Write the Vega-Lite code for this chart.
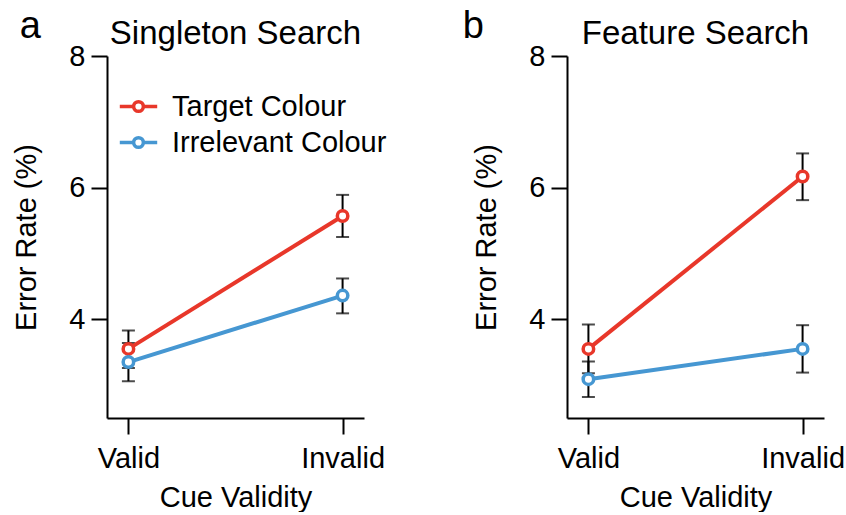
{
  "$schema": "https://vega.github.io/schema/vega-lite/v6.json",
  "background": "white",
  "padding": {"left": 12, "top": 8, "right": 0, "bottom": 0},
  "spacing": 75,
  "datasets": {
    "err": [
      {"panel": "a", "cond": "Target Colour", "validity": "Valid", "mean": 3.55, "lo": 3.26, "hi": 3.83},
      {"panel": "a", "cond": "Target Colour", "validity": "Invalid", "mean": 5.57, "lo": 5.25, "hi": 5.89},
      {"panel": "a", "cond": "Irrelevant Colour", "validity": "Valid", "mean": 3.35, "lo": 3.06, "hi": 3.64},
      {"panel": "a", "cond": "Irrelevant Colour", "validity": "Invalid", "mean": 4.36, "lo": 4.09, "hi": 4.62},
      {"panel": "b", "cond": "Target Colour", "validity": "Valid", "mean": 3.55, "lo": 3.18, "hi": 3.92},
      {"panel": "b", "cond": "Target Colour", "validity": "Invalid", "mean": 6.17, "lo": 5.81, "hi": 6.52},
      {"panel": "b", "cond": "Irrelevant Colour", "validity": "Valid", "mean": 3.09, "lo": 2.82, "hi": 3.36},
      {"panel": "b", "cond": "Irrelevant Colour", "validity": "Invalid", "mean": 3.55, "lo": 3.19, "hi": 3.91}
    ]
  },
  "config": {
    "font": "Liberation Sans",
    "view": {"stroke": null},
    "axis": {
      "grid": false,
      "domainColor": "black",
      "tickColor": "black",
      "domainWidth": 2,
      "tickWidth": 2,
      "tickSize": 16,
      "labelFontSize": 29,
      "titleFontSize": 29,
      "labelColor": "black",
      "titleColor": "black",
      "titleFontWeight": "normal",
      "labelPadding": 6
    },
    "title": {"fontSize": 33, "fontWeight": "normal", "color": "black"},
    "legend": {"labelFontSize": 29, "labelColor": "black", "labelLimit": 0}
  },
  "resolve": {"scale": {"color": "independent"}},
  "hconcat": [
    {
      "title": {"text": "a", "anchor": "start", "frame": "bounds", "fontSize": 38, "baseline": "alphabetic", "offset": -58, "dx": 7},
      "resolve": {"scale": {"color": "independent"}},
      "hconcat": [
        {
          "title": {"text": "Singleton Search", "baseline": "alphabetic", "offset": -35},
          "width": 257,
          "height": 362,
          "data": {"name": "err"},
          "transform": [{"filter": "datum.panel === 'a'"}],
          "encoding": {
            "x": {
              "field": "validity", "type": "nominal",
              "scale": {"type": "point", "domain": ["Valid", "Invalid"], "padding": 0.1},
              "axis": {"labelAngle": 0, "title": "Cue Validity", "titlePadding": 10, "labelPadding": 10}
            }
          },
          "layer": [
            {
              "mark": {"type": "rule", "color": "black", "strokeWidth": 2},
              "encoding": {
                "y": {"field": "lo", "type": "quantitative", "title": "Error Rate (%)", "scale": {"domain": [2.5, 8]}, "axis": {"values": [4, 6, 8], "format": "d", "titlePadding": 27}},
                "y2": {"field": "hi"}
              }
            },
            {
              "mark": {"type": "tick", "color": "black", "thickness": 2, "size": 13},
              "encoding": {"y": {"field": "lo", "type": "quantitative", "title": "Error Rate (%)", "scale": {"domain": [2.5, 8]}}}
            },
            {
              "mark": {"type": "tick", "color": "black", "thickness": 2, "size": 13},
              "encoding": {"y": {"field": "hi", "type": "quantitative", "title": "Error Rate (%)", "scale": {"domain": [2.5, 8]}}}
            },
            {
              "mark": {"type": "line", "strokeWidth": 4},
              "encoding": {
                "y": {"field": "mean", "type": "quantitative", "title": "Error Rate (%)", "scale": {"domain": [2.5, 8]}},
                "color": {
                  "field": "cond", "type": "nominal",
                  "scale": {"domain": ["Target Colour", "Irrelevant Colour"], "range": ["#e8372a", "#4697d2"]},
                  "legend": {
                    "orient": "none", "legendX": 11, "legendY": 30, "title": null,
                    "symbolType": "M-1,0H-0.26M0.26,0H1M-0.26,0A0.26,0.26,0,1,0,0.26,0A0.26,0.26,0,1,0,-0.26,0Z",
                    "symbolSize": 1400, "symbolStrokeWidth": 3.5, "symbolFillColor": "white",
                    "labelFontSize": 29, "labelLimit": 0, "rowPadding": 0, "labelOffset": 13, "padding": 0
                  }
                }
              }
            },
            {
              "mark": {"type": "point", "filled": false, "fill": "white", "strokeWidth": 3.5, "size": 110, "opacity": 1},
              "encoding": {
                "y": {"field": "mean", "type": "quantitative", "title": "Error Rate (%)", "scale": {"domain": [2.5, 8]}},
                "color": {
                  "field": "cond", "type": "nominal",
                  "scale": {"domain": ["Target Colour", "Irrelevant Colour"], "range": ["#e8372a", "#4697d2"]},
                  "legend": {
                    "orient": "none", "legendX": 11, "legendY": 30, "title": null,
                    "symbolType": "M-1,0H-0.26M0.26,0H1M-0.26,0A0.26,0.26,0,1,0,0.26,0A0.26,0.26,0,1,0,-0.26,0Z",
                    "symbolSize": 1400, "symbolStrokeWidth": 3.5, "symbolFillColor": "white",
                    "labelFontSize": 29, "labelLimit": 0, "rowPadding": 0, "labelOffset": 13, "padding": 0
                  }
                }
              }
            }
          ]
        }
      ]
    },
    {
      "title": {"text": "b", "anchor": "start", "frame": "bounds", "fontSize": 38, "baseline": "alphabetic", "offset": -58, "dx": -10},
      "resolve": {"scale": {"color": "independent"}},
      "hconcat": [
        {
          "title": {"text": "Feature Search", "baseline": "alphabetic", "offset": -35},
          "width": 257,
          "height": 362,
          "data": {"name": "err"},
          "transform": [{"filter": "datum.panel === 'b'"}],
          "encoding": {
            "x": {
              "field": "validity", "type": "nominal",
              "scale": {"type": "point", "domain": ["Valid", "Invalid"], "padding": 0.1},
              "axis": {"labelAngle": 0, "title": "Cue Validity", "titlePadding": 10, "labelPadding": 10}
            }
          },
          "layer": [
            {
              "mark": {"type": "rule", "color": "black", "strokeWidth": 2},
              "encoding": {
                "y": {"field": "lo", "type": "quantitative", "title": "Error Rate (%)", "scale": {"domain": [2.5, 8]}, "axis": {"values": [4, 6, 8], "format": "d", "titlePadding": 27}},
                "y2": {"field": "hi"}
              }
            },
            {
              "mark": {"type": "tick", "color": "black", "thickness": 2, "size": 13},
              "encoding": {"y": {"field": "lo", "type": "quantitative", "title": "Error Rate (%)", "scale": {"domain": [2.5, 8]}}}
            },
            {
              "mark": {"type": "tick", "color": "black", "thickness": 2, "size": 13},
              "encoding": {"y": {"field": "hi", "type": "quantitative", "title": "Error Rate (%)", "scale": {"domain": [2.5, 8]}}}
            },
            {
              "mark": {"type": "line", "strokeWidth": 4},
              "encoding": {
                "y": {"field": "mean", "type": "quantitative", "title": "Error Rate (%)", "scale": {"domain": [2.5, 8]}},
                "color": {
                  "field": "cond", "type": "nominal",
                  "scale": {"domain": ["Target Colour", "Irrelevant Colour"], "range": ["#e8372a", "#4697d2"]},
                  "legend": null
                }
              }
            },
            {
              "mark": {"type": "point", "filled": false, "fill": "white", "strokeWidth": 3.5, "size": 110, "opacity": 1},
              "encoding": {
                "y": {"field": "mean", "type": "quantitative", "title": "Error Rate (%)", "scale": {"domain": [2.5, 8]}},
                "color": {
                  "field": "cond", "type": "nominal",
                  "scale": {"domain": ["Target Colour", "Irrelevant Colour"], "range": ["#e8372a", "#4697d2"]},
                  "legend": null
                }
              }
            }
          ]
        }
      ]
    }
  ]
}
